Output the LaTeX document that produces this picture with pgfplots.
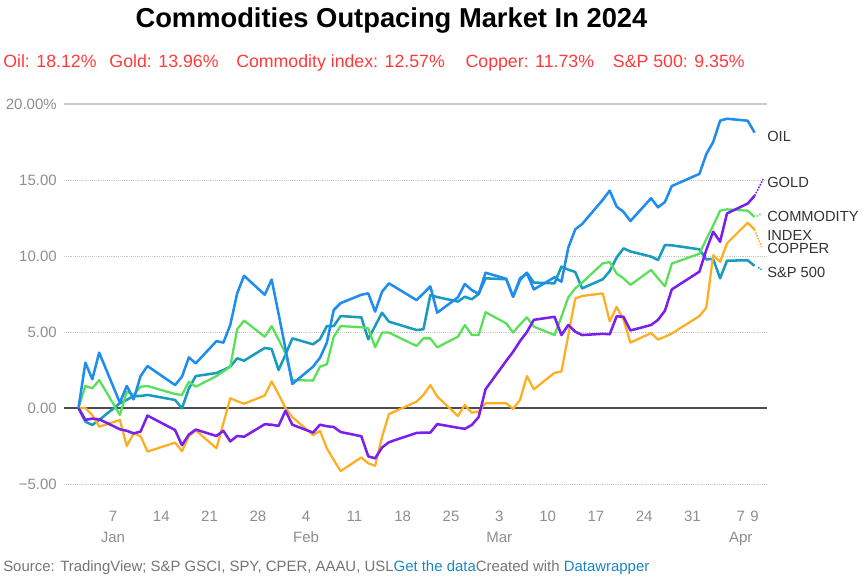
\documentclass[border=0pt]{standalone}
\usepackage{fontspec}
\setmainfont{Liberation Sans}
\usepackage{pgfplots}
\pgfplotsset{compat=1.18}
\definecolor{oilc}{HTML}{1E8CF0}
\definecolor{spc}{HTML}{199BBE}
\definecolor{comc}{HTML}{58E058}
\definecolor{copc}{HTML}{FFAE22}
\definecolor{goldc}{HTML}{7B1FEE}
\definecolor{ticklab}{HTML}{8E8E8E}
\definecolor{redsub}{HTML}{FF3A3A}
\definecolor{srcgray}{HTML}{757575}
\definecolor{dwblue}{HTML}{1A86C6}
\definecolor{labgray}{HTML}{333333}

\pgfplotstableread{
d v
2 0
3 2.98
4 1.89
5 3.64
8 0.35
9 1.45
10 0.57
11 2.1
12 2.76
16 1.51
17 2.06
18 3.33
19 2.94
22 4.4
23 4.3
24 5.46
25 7.54
26 8.7
29 7.45
30 8.45
31 6.2
32 3.9
33 1.58
36 2.72
37 3.3
38 4.3
39 6.45
40 6.9
43 7.45
44 7.54
45 6.34
46 7.65
47 8.2
51 7.1
52 7.54
53 8.0
54 6.27
57 7.28
58 8.16
59 7.76
60 7.5
61 8.9
64 8.5
65 7.32
66 8.53
67 8.86
68 7.8
71 8.6
72 8.31
73 10.55
74 11.75
75 12.1
78 13.7
79 14.3
80 13.25
81 12.9
82 12.3
85 13.8
86 13.2
87 13.55
88 14.6
92 15.4
93 16.7
94 17.5
95 18.9
96 19.03
99 18.9
100 18.12
}\oildata

\pgfplotstableread{
d v
2 0
3 -0.78
4 -0.7
5 -0.74
8 -1.4
9 -1.5
10 -1.67
11 -1.55
12 -0.5
16 -1.45
17 -2.45
18 -1.75
19 -1.42
22 -1.84
23 -1.5
24 -2.2
25 -1.84
26 -1.89
29 -1.07
30 -1.1
31 -1.18
32 -0.18
33 -1.1
36 -1.62
37 -1.1
38 -1.2
39 -1.25
40 -1.58
43 -1.86
44 -3.18
45 -3.31
46 -2.6
47 -2.25
51 -1.64
52 -1.62
53 -1.62
54 -1.06
57 -1.3
58 -1.37
59 -1.12
60 -0.6
61 1.23
64 3.1
65 3.7
66 4.4
67 5.0
68 5.8
71 6.0
72 4.8
73 5.46
74 5.02
75 4.8
78 4.88
79 4.85
80 6.03
81 6.0
82 5.1
85 5.46
86 5.8
87 6.4
88 7.8
92 8.97
93 10.4
94 11.6
95 10.94
96 12.8
99 13.45
100 13.96
}\golddata

\pgfplotstableread{
d v
2 0
3 1.45
4 1.29
5 1.84
8 -0.46
9 1.07
10 0.86
11 1.4
12 1.45
16 0.92
17 0.86
18 1.73
19 1.4
22 2.1
23 2.4
24 2.72
25 5.18
26 5.75
29 4.69
30 5.39
31 4.5
32 3.6
33 1.84
36 1.8
37 2.72
38 2.87
39 4.69
40 5.39
43 5.31
44 5.24
45 3.99
46 4.96
47 4.96
51 4.08
52 4.58
53 4.58
54 3.99
57 4.69
58 5.46
59 4.8
60 4.8
61 6.3
64 5.57
65 4.96
66 5.5
67 5.96
68 5.35
71 4.8
72 6.0
73 7.28
74 7.87
75 8.25
78 9.52
79 9.6
80 8.85
81 8.53
82 8.1
85 9.08
86 8.53
87 8.0
88 9.5
92 10.15
93 11.1
94 12.0
95 12.98
96 13.07
99 12.98
100 12.57
}\comdata

\pgfplotstableread{
d v
2 0
3 0.0
4 -0.46
5 -1.23
8 -0.79
9 -2.5
10 -1.67
11 -1.85
12 -2.87
16 -2.28
17 -2.84
18 -1.85
19 -1.47
22 -2.65
23 -1.0
24 0.64
25 0.45
26 0.28
29 0.82
30 1.75
31 0.9
32 0.0
33 -0.6
36 -1.78
37 -1.5
38 -2.65
39 -3.42
40 -4.15
43 -3.25
44 -3.64
45 -3.8
46 -1.9
47 -0.4
51 0.42
52 0.86
53 1.51
54 0.75
57 -0.53
58 0.2
59 -0.31
60 -0.24
61 0.31
64 0.31
65 -0.05
66 0.53
67 2.1
68 1.23
71 2.32
72 2.39
73 4.8
74 7.2
75 7.37
78 7.54
79 5.7
80 6.65
81 5.8
82 4.3
85 4.93
86 4.5
87 4.69
88 4.9
92 6.05
93 6.6
94 10.05
95 9.62
96 10.83
99 12.19
100 11.73
}\copdata

\pgfplotstableread{
d v
2 0
3 -0.9
4 -1.12
5 -0.79
8 0.31
9 0.53
10 0.79
11 0.79
12 0.86
16 0.53
17 -0.02
18 1.29
19 2.1
22 2.3
23 2.5
24 2.72
25 3.27
26 3.11
29 3.95
30 3.88
31 2.5
32 3.5
33 4.58
36 4.19
37 4.52
38 5.39
39 5.39
40 6.05
43 5.96
44 4.52
45 5.4
46 6.27
47 5.68
51 5.13
52 5.18
53 7.43
54 7.3
57 7.0
58 7.32
59 7.15
60 7.5
61 8.53
64 8.47
65 7.32
66 8.42
67 8.9
68 8.25
71 8.2
72 9.3
73 9.1
74 8.95
75 7.87
78 8.47
79 9.0
80 9.9
81 10.5
82 10.3
85 9.96
86 9.74
87 10.72
88 10.7
92 10.44
93 9.78
94 9.8
95 8.53
96 9.69
99 9.72
100 9.35
}\spdata

\begin{document}
\begin{tikzpicture}
\path[use as bounding box] (0pt,0pt) rectangle (649.5pt,438pt);
\begin{axis}[
  at={(48pt,63.6pt)}, anchor=south west,
  scale only axis, width=527.25pt, height=296.4pt,
  xmin=-0.1, xmax=101.8, ymin=-6, ymax=20,
  clip=false,
  axis line style={draw=none},
  major tick length=0pt,
  ytick={-5,0,5,10,15},
  yticklabels={−5.00,0.00,5.00,10.00,15.00},
  extra y ticks={20}, extra y tick labels={20.00\%},
  extra y tick style={grid=none},
  yticklabel style={anchor=east, inner sep=0pt, xshift=-5.25pt, text=ticklab, font=\fontsize{11.25}{13}\selectfont},
  ymajorgrids,
  grid style={densely dotted, draw=black!22, line width=0.6pt},
  xtick={7,14,21,28,35,42,49,56,63,70,77,84,91,98,100},
  xticklabels={7\\Jan,14,21,28,4\\Feb,11,18,25,3\\Mar,10,17,24,31,7\\Apr,9},
  xticklabel style={align=center, anchor=north, inner sep=0pt, yshift=-8.6pt, text=ticklab, font=\fontsize{11.25}{15.75}\selectfont},
  /pgf/number format/assume math mode=true,
]
\draw[draw=black!70, line width=1.0pt] (axis cs:-0.1,0) -- (axis cs:101.8,0);
\draw[draw=black!20, line width=0.9pt] (axis cs:-0.1,20) -- (axis cs:101.8,20);
\addplot[spc, line width=1.9pt, line join=round] table[x=d,y=v] {\spdata};
\addplot[comc, line width=1.7pt, line join=round] table[x=d,y=v] {\comdata};
\addplot[copc, line width=1.7pt, line join=round] table[x=d,y=v] {\copdata};
\addplot[goldc, line width=1.9pt, line join=round] table[x=d,y=v] {\golddata};
\addplot[oilc, line width=1.9pt, line join=round] table[x=d,y=v] {\oildata};
\addplot[goldc, densely dotted, line width=1.2pt] coordinates {(100,13.96) (101.25,15.05)};
\addplot[comc, densely dotted, line width=1.2pt] coordinates {(100.3,12.6) (101.0,12.8)};
\addplot[copc, densely dotted, line width=1.2pt] coordinates {(100,11.73) (101.0,10.6)};
\addplot[spc, densely dotted, line width=1.2pt] coordinates {(100.5,9.25) (101.0,9.1)};
\end{axis}
\begin{scope}[every node/.style={anchor=west, inner sep=0pt, text=labgray, font=\fontsize{11}{12}\selectfont}]
\node at (575.25pt,335.6pt) {OIL};
\node at (575.25pt,301.1pt) {GOLD};
\node at (575.25pt,276pt) {COMMODITY};
\node at (575.25pt,261.75pt) {INDEX};
\node at (575.25pt,251.6pt) {COPPER};
\node at (575.25pt,233.6pt) {S\&P 500};
\end{scope}
\node[anchor=base, inner sep=0pt, font=\bfseries\fontsize{20.5}{24}\selectfont] at (293.6pt,417pt) {Commodities Outpacing Market In 2024};
\begin{scope}[every node/.style={anchor=base west, inner sep=0pt, text=redsub, font=\fontsize{13.3}{15}\selectfont}]
\node at (2.25pt,387pt) {Oil: 18.12\%};
\node at (81.9pt,387pt) {Gold: 13.96\%};
\node at (177pt,387pt) {Commodity index: 12.57\%};
\node at (349pt,387pt) {Copper: 11.73\%};
\node at (459.5pt,387pt) {S\&P 500: 9.35\%};
\end{scope}
\node[anchor=base west, inner sep=0pt, font=\fontsize{11.2}{13}\selectfont] at (2.25pt,9pt) {\textcolor{srcgray}{Source: TradingView; S\&P GSCI, SPY, CPER, AAAU, USL}\textcolor{dwblue}{Get the data}\textcolor{srcgray}{Created with }\textcolor{dwblue}{Datawrapper}};
\end{tikzpicture}
\end{document}
